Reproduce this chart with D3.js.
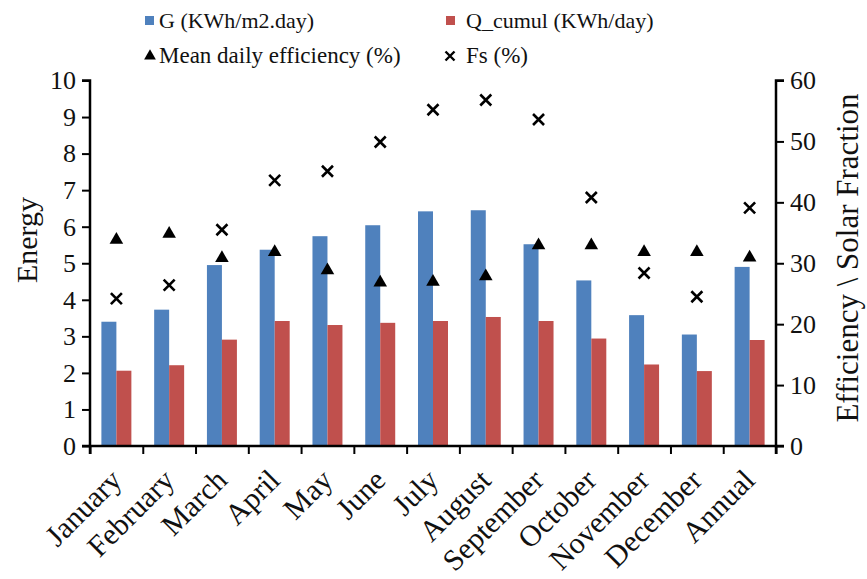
<!DOCTYPE html>
<html>
<head>
<meta charset="utf-8">
<script src="https://cdn.jsdelivr.net/npm/d3@7"></script>
<style>
  html, body { margin: 0; padding: 0; background: #fff; }
  svg { display: block; font-family: "Liberation Serif", "Times New Roman", serif; }
</style>
</head>
<body>
<svg id="chart" width="867" height="579"></svg>
<script>
const categories = ["January","February","March","April","May","June","July","August","September","October","November","December","Annual"];
const gValues     = [3.40, 3.73, 4.95, 5.37, 5.74, 6.04, 6.42, 6.45, 5.52, 4.53, 3.58, 3.05, 4.90];
const qValues     = [2.06, 2.21, 2.91, 3.42, 3.31, 3.37, 3.42, 3.53, 3.42, 2.94, 2.23, 2.05, 2.90];
const efficiency  = [34.0, 35.0, 31.0, 32.0, 29.0, 27.0, 27.1, 28.0, 33.1, 33.1, 32.0, 32.0, 31.1];
const fsValues    = [24.2, 26.4, 35.5, 43.6, 45.1, 49.9, 55.2, 56.8, 53.6, 40.8, 28.4, 24.5, 39.1];
const leftTicks   = [0,1,2,3,4,5,6,7,8,9,10];
const rightTicks  = [0,10,20,30,40,50,60];
const seriesNames = ["G (KWh/m2.day)", "Q_cumul (KWh/day)", "Mean daily efficiency (%)", "Fs (%)"];

const BLUE = "#4F81BD", RED = "#C0504D";
const svg = d3.select("#chart");

const plot = {left: 90, right: 776, top: 80.5, bottom: 446};

const x = d3.scaleBand().domain(categories).range([plot.left, plot.right]).paddingInner(0).paddingOuter(0);
const xs = d3.scaleBand().domain(["G","Q"]).range([0, x.bandwidth()]).paddingInner(0).paddingOuter(0.76);
const yL = d3.scaleLinear().domain([0,10]).range([plot.bottom, plot.top]);
const yR = d3.scaleLinear().domain([0,60]).range([plot.bottom, plot.top]);

// bars
svg.append("g").selectAll("rect.g").data(categories).join("rect")
  .attr("x", (d) => x(d) + xs("G")).attr("width", xs.bandwidth())
  .attr("y", (d,i) => yL(gValues[i])).attr("height", (d,i) => yL(0) - yL(gValues[i]))
  .attr("fill", BLUE);
svg.append("g").selectAll("rect.q").data(categories).join("rect")
  .attr("x", (d) => x(d) + xs("Q")).attr("width", xs.bandwidth())
  .attr("y", (d,i) => yL(qValues[i])).attr("height", (d,i) => yL(0) - yL(qValues[i]))
  .attr("fill", RED);

// markers
const tri = d3.symbol().type(d3.symbolTriangle).size(80);
svg.append("g").selectAll("path").data(categories).join("path")
  .attr("d", tri)
  .attr("transform", (d,i) => `translate(${x(d) + x.bandwidth()/2},${yR(efficiency[i]) + 1})`)
  .attr("fill", "#000");

const xm = 5.5;
const fsG = svg.append("g").selectAll("g").data(categories).join("g")
  .attr("transform", (d,i) => `translate(${x(d) + x.bandwidth()/2},${yR(fsValues[i])})`);
fsG.append("path").attr("d", `M${-xm},${-xm}L${xm},${xm}M${-xm},${xm}L${xm},${-xm}`)
  .attr("stroke", "#000").attr("stroke-width", 2.6).attr("fill", "none");

// axes
const axL = d3.axisLeft(yL).tickValues(leftTicks).tickSize(8).tickPadding(6).tickFormat(d3.format("d"));
const gL = svg.append("g").attr("transform", `translate(${plot.left},0)`).call(axL);
const axR = d3.axisRight(yR).tickValues(rightTicks).tickSize(8).tickPadding(6).tickFormat(d3.format("d"));
const gR = svg.append("g").attr("transform", `translate(${plot.right},0)`).call(axR);
const axB = d3.axisBottom(d3.scaleLinear().domain([0, categories.length]).range([plot.left, plot.right]))
  .tickValues(d3.range(categories.length + 1)).tickSize(8).tickFormat("");
const gB = svg.append("g").attr("transform", `translate(0,${plot.bottom})`).call(axB);

[gL, gR, gB].forEach(g => {
  g.select(".domain").attr("stroke", "#000").attr("stroke-width", 2.5);
  g.selectAll(".tick line").attr("stroke", "#000").attr("stroke-width", 2);
  g.selectAll(".tick text").attr("font-size", 26).attr("fill", "#111").attr("font-family", "Liberation Serif");
});
gL.select(".domain").attr("d", `M-8,${plot.top}H0V${plot.bottom}H-8`);
gR.select(".domain").attr("d", `M8,${plot.top}H0V${plot.bottom}H8`);
gB.select(".domain").attr("d", `M${plot.left},8V0H${plot.right}V8`);

// x labels
svg.append("g").selectAll("text").data(categories).join("text")
  .attr("transform", d => `translate(${x(d) + x.bandwidth()/2 + 7},482) rotate(-45)`)
  .attr("text-anchor", "end")
  .attr("font-size", 30).attr("fill", "#111")
  .text(d => d);

// axis titles
svg.append("text").attr("transform", `translate(37,240) rotate(-90)`)
  .attr("text-anchor", "middle").attr("font-size", 30).attr("fill", "#111").text("Energy");
svg.append("text").attr("transform", `translate(858,258) rotate(-90)`)
  .attr("text-anchor", "middle").attr("font-size", 31).attr("fill", "#111").text("Efficiency \\ Solar Fraction");

// legend
const lg = svg.append("g").attr("font-size", 22).attr("fill", "#111");
lg.append("rect").attr("x", 145).attr("y", 16).attr("width", 9).attr("height", 9).attr("fill", BLUE);
lg.append("text").attr("x", 159).attr("y", 28).text(seriesNames[0]);
lg.append("rect").attr("x", 446).attr("y", 16).attr("width", 9).attr("height", 9).attr("fill", RED);
lg.append("text").attr("x", 466).attr("y", 28).text(seriesNames[1]);
lg.append("path").attr("d", d3.symbol().type(d3.symbolTriangle).size(60))
  .attr("transform", "translate(150,56)").attr("fill", "#000");
lg.append("text").attr("x", 159).attr("y", 63).attr("font-size", 23).text(seriesNames[2]);
lg.append("path").attr("d", "M-4.5,-4.5L4.5,4.5M-4.5,4.5L4.5,-4.5")
  .attr("transform", "translate(450,56)").attr("stroke", "#000").attr("stroke-width", 2.4);
lg.append("text").attr("x", 466).attr("y", 63).attr("font-size", 23).text(seriesNames[3]);
</script>
</body>
</html>
